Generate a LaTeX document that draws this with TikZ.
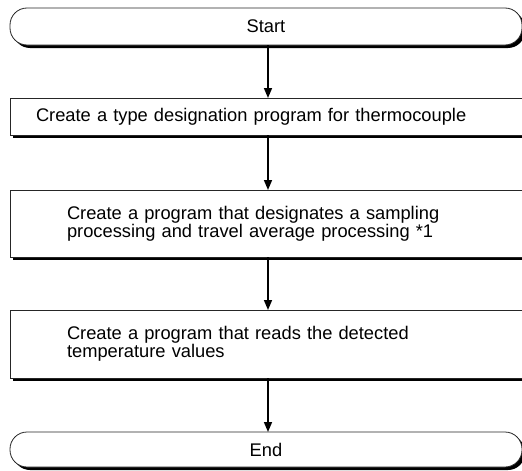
\documentclass[tikz,border=0pt]{standalone}
\usepackage{fontspec}
\setmainfont{Liberation Sans}
\usetikzlibrary{arrows.meta,shadows}
\begin{document}
\begin{tikzpicture}[x=1pt,y=-1pt,
  base/.style={draw=black!85, line width=0.8pt, fill=white,
    minimum width=512pt, outer sep=0pt,
    font=\fontsize{18.3}{18}\selectfont,
    drop shadow={shadow xshift=3pt, shadow yshift=-3pt, fill=black, opacity=1}},
  term/.style={base, rounded corners=17pt, inner sep=0pt},
  stepbox/.style={base, align=left},
  arr/.style={line width=1.6pt, -{Triangle[width=8pt,length=10pt]}}]
\useasboundingbox (0,0) rectangle (522,471);
\node[term, minimum height=37pt] (start) at (266,26.5) {Start};
\node[stepbox, minimum height=37pt, inner xsep=26pt, text width=460pt] (b1) at (266,116.5)
  {Create a type designation program for thermocouple};
\node[stepbox, minimum height=67pt, inner xsep=57pt, text width=398pt] (b2) at (266,223.5)
  {Create a program that designates a sampling\\processing and travel average processing *1};
\node[stepbox, minimum height=68pt, inner xsep=57pt, text width=398pt] (b3) at (266,344)
  {Create a program that reads the detected\\temperature values};
\node[term, minimum height=35pt] (end) at (266,449.5) {End};
\draw[arr] ([xshift=2pt]start.south) -- ([xshift=2pt]b1.north);
\draw[arr] ([xshift=2pt]b1.south) -- ([xshift=2pt]b2.north);
\draw[arr] ([xshift=2pt]b2.south) -- ([xshift=2pt]b3.north);
\draw[arr] ([xshift=2pt]b3.south) -- ([xshift=2pt]end.north);
\end{tikzpicture}
\end{document}
